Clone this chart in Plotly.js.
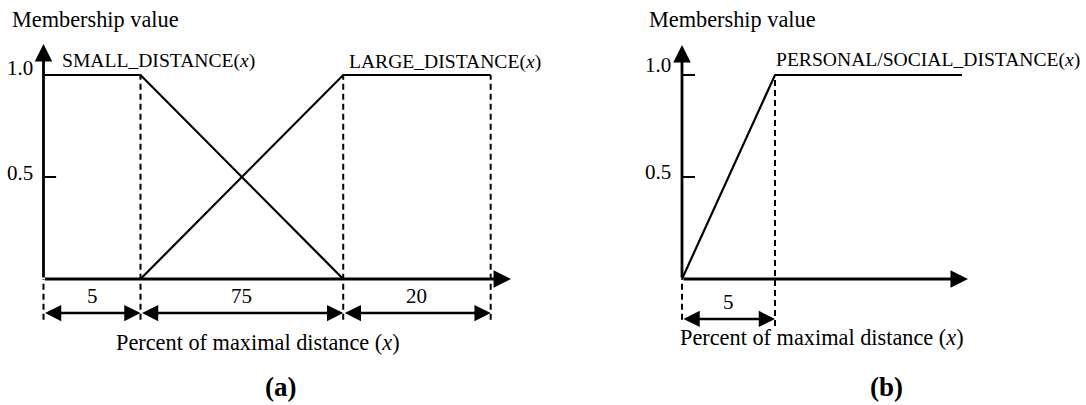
<!DOCTYPE html>
<html>
<head>
<meta charset="utf-8">
<script src="https://cdn.plot.ly/plotly-3.0.1.min.js"></script>
<style>html,body{margin:0;padding:0;background:#fff;}</style>
</head>
<body>
<div id="chart" style="width:1086px;height:405px;"></div>
<script>
// Panel (a): breakpoints on a schematic distance axis (0 %, 5 %, 80 %, 100 %)
const breaksA = [0, 1, 3.09, 4.61];
const segLabelsA = ['5', '75', '20'];
const smallX = [0, 1, 3.09];
const smallY = [1, 1, 0];
const largeX = [1, 3.09, 4.61];
const largeY = [0, 1, 1];

// Panel (b): personal/social distance membership
const breaksB = [0, 1];
const segLabelsB = ['5'];
const personalX = [0, 1, 3.01];
const personalY = [0, 1, 1];

// Membership ticks drawn on the vertical axes
const yTicksA = [0.5];
const yTicksB = [0.5, 1.0];
const yTickLabels = {0.5: '0.5', 1: '1.0'};

const FONT = 'Liberation Serif, Times New Roman, serif';
const BLACK = '#000';
const TEXT_SIZE = 22.3;   // running text
const NUM_SIZE = 21;      // numbers
const NAME_SIZE = 19.6;   // upper-case function names

function dashedGuides(breaks, topFor, bottom) {
  const xs = [], ys = [];
  breaks.forEach((b, i) => {
    xs.push(b, b, null);
    ys.push(bottom[i], topFor(i), null);
  });
  return {xs, ys};
}

const traces = [];
const annotations = [];

function panel(sub, cfg) {
  const xr = sub === 1 ? 'x' : 'x2';
  const yr = sub === 1 ? 'y' : 'y2';
  // membership curves
  cfg.curves.forEach(c => {
    traces.push({x: c.x, y: c.y, xaxis: xr, yaxis: yr, mode: 'lines',
      line: {color: BLACK, width: 2.2}, hoverinfo: 'skip', showlegend: false});
  });
  // dashed guides
  const g = dashedGuides(cfg.breaks, cfg.guideTop, cfg.guideBottom);
  traces.push({x: g.xs, y: g.ys, xaxis: xr, yaxis: yr, mode: 'lines',
    line: {color: BLACK, width: 2, dash: '6px,4px'}, hoverinfo: 'skip', showlegend: false});
  // y ticks
  const tx = [], ty = [];
  cfg.yTicks.forEach(t => { tx.push(0, cfg.tickLen, null); ty.push(t, t, null); });
  traces.push({x: tx, y: ty, xaxis: xr, yaxis: yr, mode: 'lines',
    line: {color: BLACK, width: 2}, hoverinfo: 'skip', showlegend: false});

  const arrow = (x0, y0, x1, y1, w, both) => ({
    xref: xr, yref: yr, axref: xr, ayref: yr,
    x: x1, y: y1, ax: x0, ay: y0, text: '', showarrow: true,
    arrowhead: 2, arrowsize: 1.25, arrowwidth: w, arrowcolor: BLACK,
    arrowside: both ? 'end+start' : 'end',
    startarrowhead: 2, startarrowsize: 1.25
  });
  // axes with arrow tips
  annotations.push(arrow(0, 0, cfg.xTip, 0, 2.8, false));
  annotations.push(arrow(0, 0, 0, cfg.yTip, 2.8, false));
  // dimension arrows between breakpoints
  for (let i = 0; i < cfg.segLabels.length; i++) {
    const a = cfg.breaks[i], b = cfg.breaks[i + 1];
    annotations.push(arrow(a, cfg.dimY, b, cfg.dimY, 2.6, true));
    annotations.push({xref: xr, yref: yr, x: (a + b) / 2, y: cfg.segLabelY,
      text: cfg.segLabels[i], showarrow: false, font: {family: FONT, size: NUM_SIZE, color: BLACK}});
  }
  // tick labels
  cfg.tickLabelAt.forEach(t => {
    annotations.push({xref: xr, yref: yr, x: cfg.tickLabelX, y: t.y, xanchor: 'right',
      text: yTickLabels[t.v], showarrow: false, font: {family: FONT, size: NUM_SIZE, color: BLACK}});
  });
  // axis titles
  annotations.push({xref: xr, yref: yr, x: cfg.yTitleX, y: 1.27, xanchor: 'left',
    text: 'Membership value', showarrow: false, font: {family: FONT, size: TEXT_SIZE, color: BLACK}});
  annotations.push({xref: xr, yref: yr, x: cfg.xTitleX, y: cfg.xTitleY,
    text: 'Percent of maximal distance (<i>x</i>)', showarrow: false,
    font: {family: FONT, size: TEXT_SIZE, color: BLACK}});
  // function names
  cfg.names.forEach(n => {
    annotations.push({xref: xr, yref: yr, x: n.x, y: n.y, xanchor: 'left',
      text: n.text, showarrow: false, font: {family: FONT, size: NAME_SIZE, color: BLACK}});
  });
  // panel letter
  annotations.push({xref: xr, yref: yr, x: cfg.letterX, y: -0.529,
    text: '<b>' + cfg.letter + '</b>', showarrow: false,
    font: {family: FONT, size: 27, color: BLACK}});
}

panel(1, {
  curves: [{x: smallX, y: smallY}, {x: largeX, y: largeY}],
  breaks: breaksA,
  guideTop: i => (i === 0 ? 0 : 1),
  guideBottom: [-0.2, -0.2, -0.2, -0.2],
  yTicks: yTicksA, tickLen: 0.13,
  xTip: 4.82, yTip: 1.152,
  segLabels: segLabelsA, dimY: -0.167, segLabelY: -0.083,
  tickLabelX: -0.09,
  tickLabelAt: [{v: 1, y: 1.034}, {v: 0.5, y: 0.52}],
  yTitleX: -0.35, xTitleX: 2.211, xTitleY: -0.309,
  names: [{x: 0.17, y: 1.069, text: 'SMALL_DISTANCE(<i>x</i>)'},
          {x: 3.129, y: 1.064, text: 'LARGE_DISTANCE(<i>x</i>)'}],
  letter: '(a)', letterX: 2.44
});

panel(2, {
  curves: [{x: personalX, y: personalY}],
  breaks: breaksB,
  guideTop: i => (i === 0 ? 0 : 1),
  guideBottom: [-0.2, -0.23],
  yTicks: yTicksB, tickLen: 0.14,
  xTip: 3.075, yTip: 1.147,
  segLabels: segLabelsB, dimY: -0.196, segLabelY: -0.113,
  tickLabelX: -0.1,
  tickLabelAt: [{v: 1, y: 1.049}, {v: 0.5, y: 0.525}],
  yTitleX: -0.376, xTitleX: 1.505, xTitleY: -0.289,
  names: [{x: 0.99, y: 1.074, text: 'PERSONAL/SOCIAL_DISTANCE(<i>x</i>)'}],
  letter: '(b)', letterX: 2.204
});

const hidden = {visible: false, fixedrange: true};
const layout = {
  width: 1086, height: 405,
  margin: {l: 0, r: 0, t: 0, b: 0},
  paper_bgcolor: '#fff', plot_bgcolor: '#fff',
  showlegend: false,
  xaxis: Object.assign({domain: [0, 0.5], range: [-0.4485, 5.1495]}, hidden),
  yaxis: Object.assign({domain: [0, 1], range: [-0.6176, 1.3676]}, hidden),
  xaxis2: Object.assign({domain: [0.5, 1], range: [-1.4946, 4.3441], anchor: 'y2'}, hidden),
  yaxis2: Object.assign({domain: [0, 1], range: [-0.6176, 1.3676], anchor: 'x2'}, hidden),
  annotations: annotations
};

Plotly.newPlot('chart', traces, layout, {staticPlot: true, displayModeBar: false});
</script>
</body>
</html>
